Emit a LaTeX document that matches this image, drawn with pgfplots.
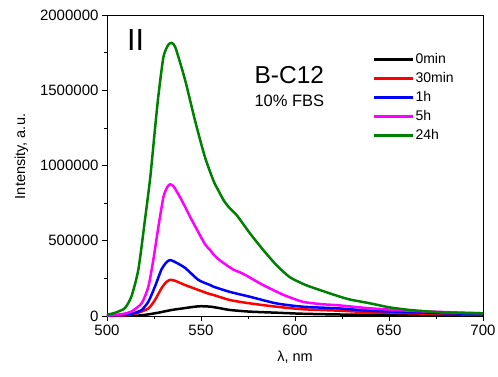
\documentclass[border=0pt]{standalone}
\usepackage{pgfplots}
\pgfplotsset{compat=1.18}
\usepackage{fontspec}
\setmainfont{Liberation Sans}
\definecolor{cgreen}{RGB}{0,128,0}
\definecolor{cmag}{RGB}{255,0,255}
\begin{document}
\begin{tikzpicture}
\useasboundingbox (-107pt,-60pt) rectangle (391pt,316pt);
\begin{axis}[
  at={(0,0)}, anchor=south west,
  width=376pt, height=301pt, scale only axis,
  xmin=500, xmax=700, ymin=0, ymax=2000000,
  xtick={500,550,600,650,700},
  ytick={0,500000,1000000,1500000,2000000},
  minor x tick num=1, minor y tick num=1,
  tick align=outside, xtick pos=bottom, ytick pos=left,
  major tick length=5pt, minor tick length=3pt,
  scaled y ticks=false,
  /pgf/number format/assume math mode=true,
  yticklabel style={/pgf/number format/fixed,/pgf/number format/1000 sep={}},
  tick label style={font=\fontsize{15}{18}\selectfont},
  axis line style={line width=0.8pt},
  every tick/.style={black, line width=0.6pt},
  xlabel={λ, nm},
  ylabel={Intensity, a.u.},
  label style={font=\fontsize{14.5}{17}\selectfont},
  xlabel style={yshift=-9pt},
  ylabel style={at={(ticklabel cs:0.53)}, yshift=5pt},
  legend cell align=left,
  legend style={at={(0.707,0.877)}, anchor=north west, draw=none, fill=none,
    inner sep=0pt, row sep=4pt, font=\fontsize{14}{16}\selectfont,
    nodes={inner sep=1pt, text height=10pt, text depth=3pt}},
  legend image code/.code={\draw[#1, line width=2.5pt] (0pt,0pt) -- (39pt,0pt);},
  every axis plot/.append style={line width=2.5pt, line join=round, smooth, tension=0.4},
]
\addplot[black] coordinates {
(500,0) (516,2000) (525.5,18000) (534.4,40000) (540,50000) (546.8,62000) (550,65000)
(555,62000) (560,52000) (565.4,40000) (576,29000) (590,22000) (604,15000) (624,10000)
(650,8000) (700,5000)};
\addlegendentry{0min}
\addplot[red] coordinates {
(500,1000) (510,5000) (516,20000) (522,50000) (525.5,106000) (529,185000) (531.5,225000)
(533.5,240000) (536,235000) (541.5,206000) (548.6,173000) (554.8,145000) (556.6,140000)
(565.4,106000) (576,84000) (590,62000) (604,45000) (624,35000) (640,25000) (661,18000)
(680,13000) (700,10000)};
\addlegendentry{30min}
\addplot[blue] coordinates {
(500,2000) (510,8000) (514,18000) (518.4,40000) (522,95000) (525.5,195000) (529,310000)
(531.5,355000) (533.5,372000) (536,360000) (541.5,320000) (548.6,240000) (554.8,206000)
(556.6,195000) (565.4,160000) (576,128000) (590,84000) (604,62000) (624,50000)
(640,35000) (661,25000) (680,18000) (700,14000)};
\addlegendentry{1h}
\addplot[cmag] coordinates {
(500,3000) (505,8000) (509,15000) (513,30000) (518.4,84000) (522,195000) (524.6,370000)
(527.3,590000) (530,790000) (532,855000) (533.5,875000) (535.5,860000) (539.7,770000)
(545,640000) (552,480000) (554.8,440000) (556.6,410000) (560,370000) (567,310000)
(572.5,280000) (583,206000) (594,140000) (604,95000) (613,80000) (624,70000)
(640,51000) (661,35000) (682,25000) (700,18000)};
\addlegendentry{5h}
\addplot[cgreen] coordinates {
(500,8000) (504,20000) (507,35000) (509.6,53000) (513,130000) (516.7,310000)
(520.2,640000) (523,920000) (525.5,1240000) (527.3,1460000) (530,1720000)
(532.5,1800000) (534.4,1815000) (536.5,1780000) (541.5,1570000) (546.8,1300000)
(552,1060000) (556.6,900000) (559,840000) (562,770000) (565,720000) (569,670000)
(576,550000) (583,440000) (590,340000) (597,260000) (604,215000) (608,195000)
(618.6,150000) (624,128000) (629,110000) (640,84000) (650,58000) (661,40000)
(672,29000) (682,22000) (700,18000)};
\addlegendentry{24h}
\node[anchor=base, font=\fontsize{30.5}{34}\selectfont] at (axis cs:515.2,1761000) {II};
\node[anchor=base, font=\fontsize{24.5}{28}\selectfont] at (axis cs:597,1546000) {B-C12};
\node[anchor=base, font=\fontsize{16.5}{19}\selectfont] at (axis cs:597,1391000) {10\% FBS};
\end{axis}
\end{tikzpicture}
\end{document}
